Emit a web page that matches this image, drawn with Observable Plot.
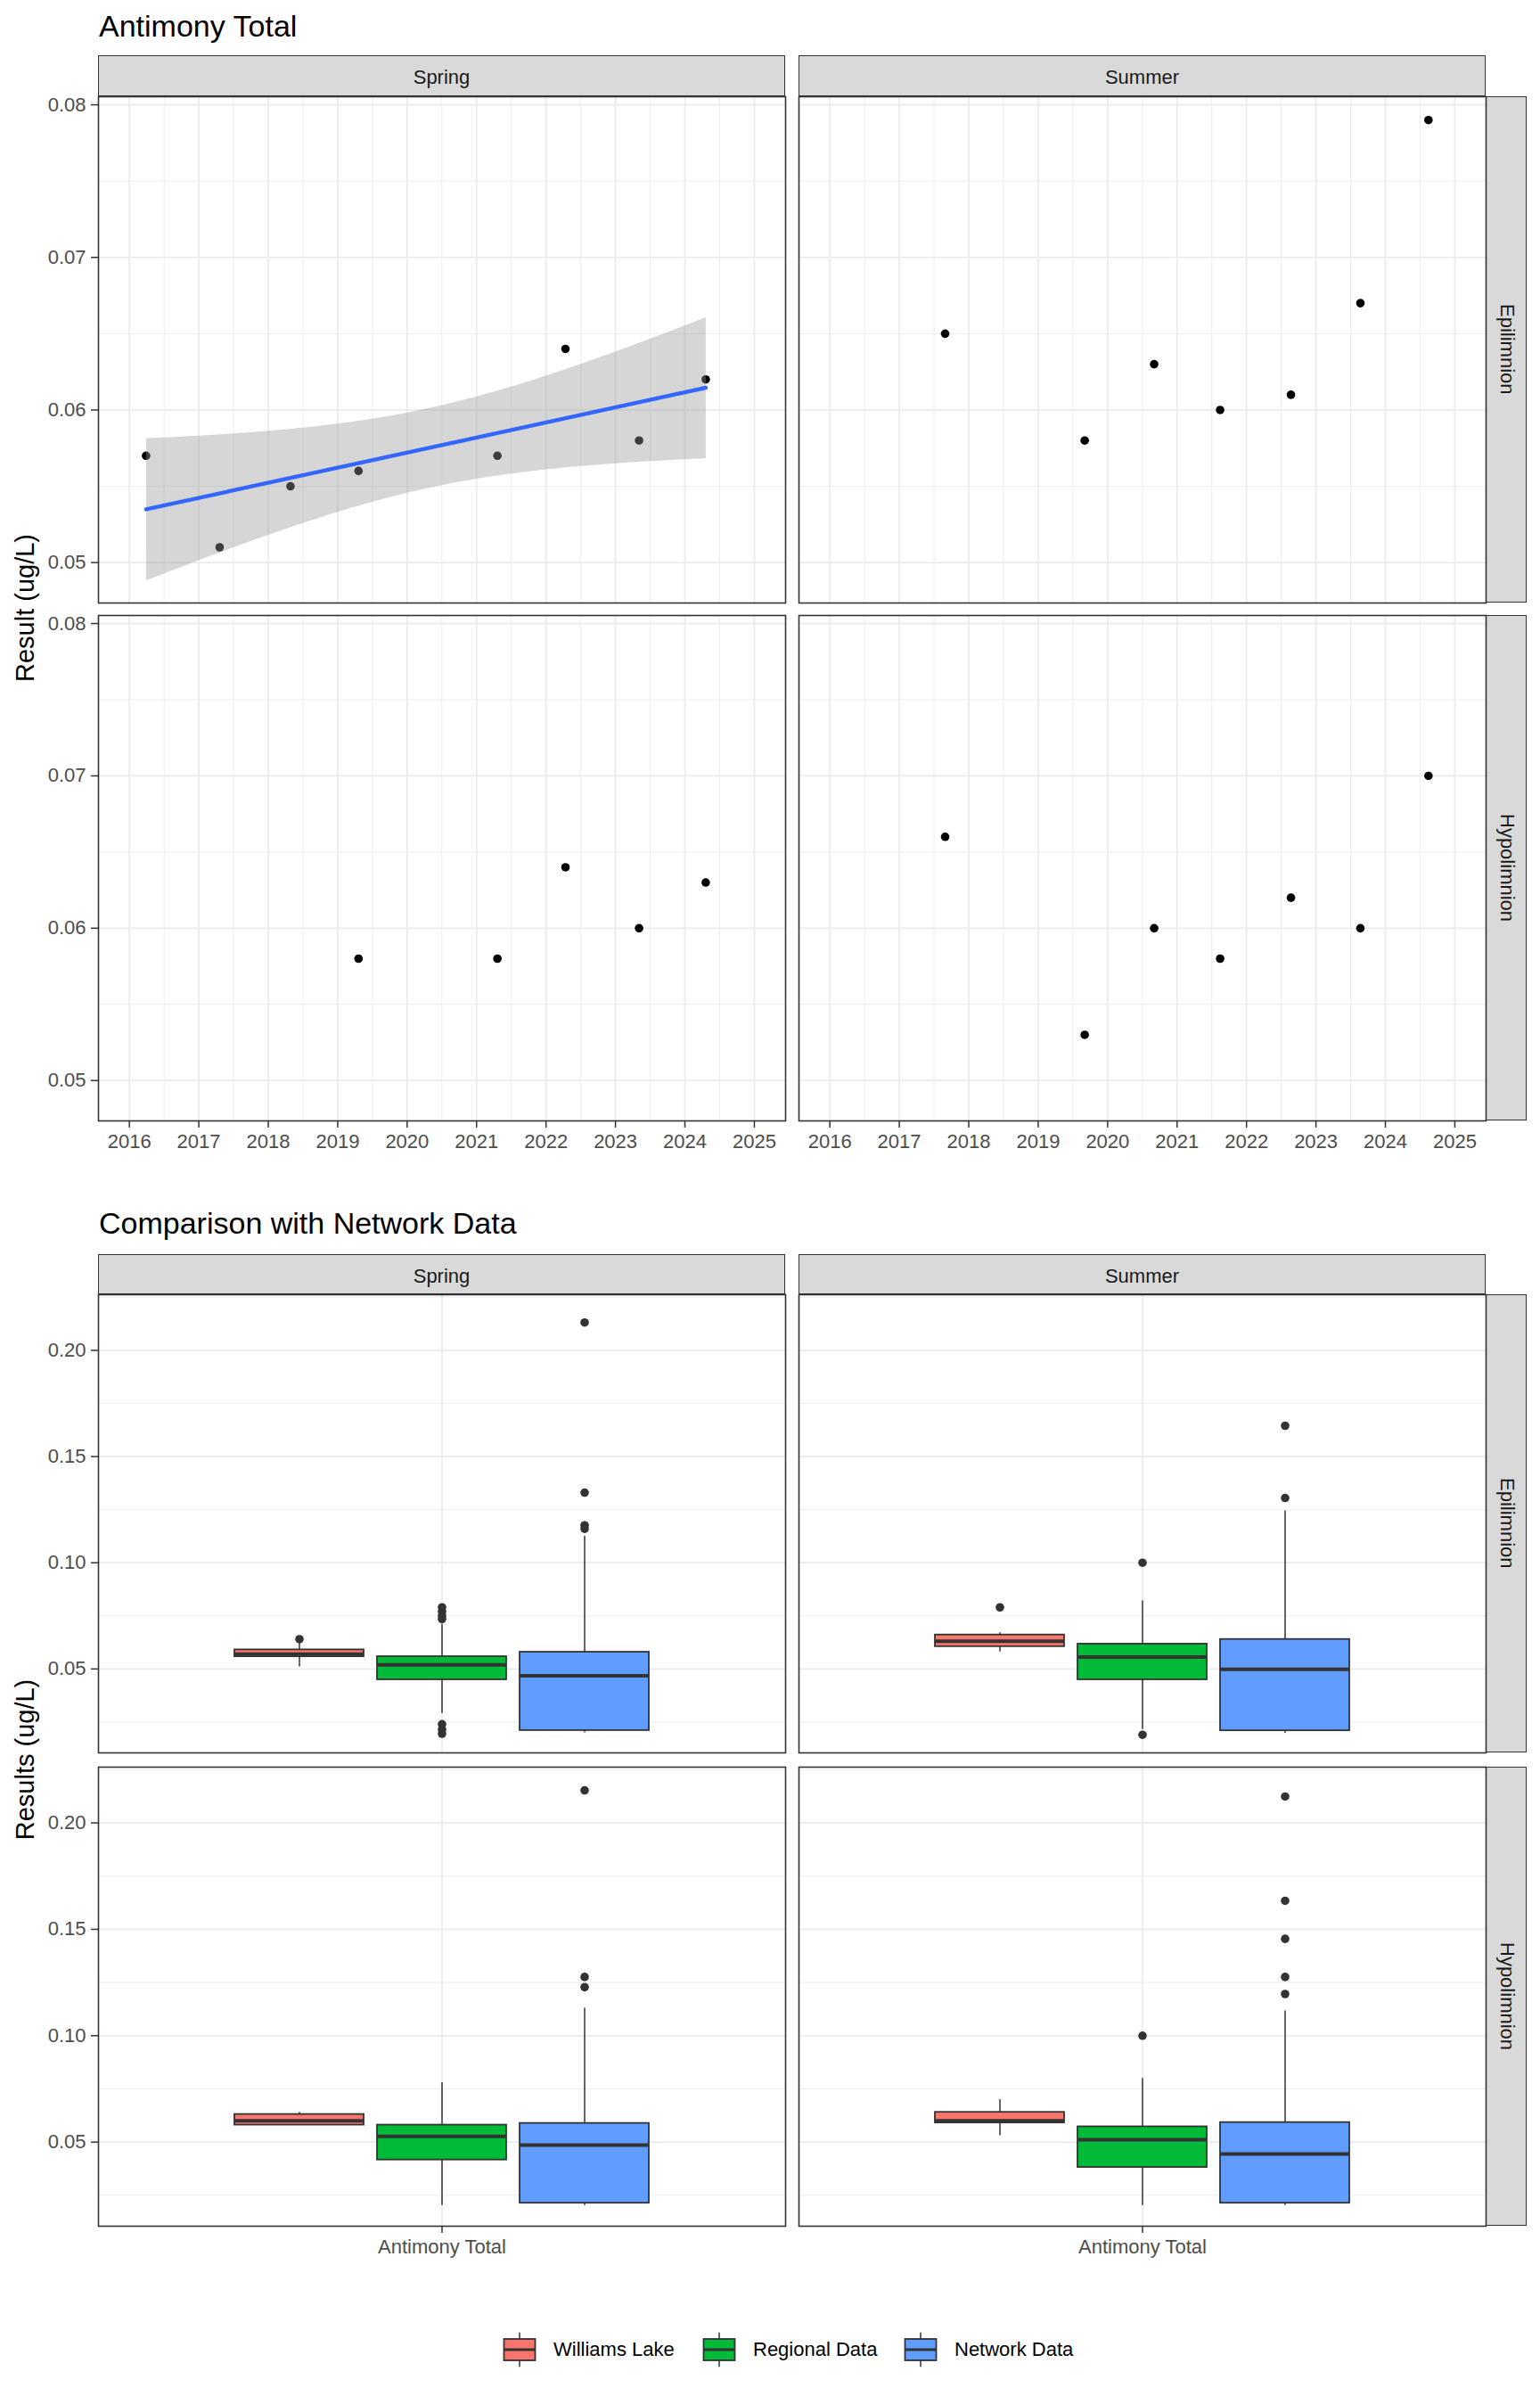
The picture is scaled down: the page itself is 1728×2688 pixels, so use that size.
<!DOCTYPE html>
<html>
<head>
<meta charset="utf-8">
<script src="https://cdn.jsdelivr.net/npm/d3@7"></script>
<script src="https://cdn.jsdelivr.net/npm/@observablehq/plot@0.6"></script>
<style>
  body { margin: 0; background: #fff; font-family: "Liberation Sans", Arial, sans-serif; }
  #root { position: relative; width: 1728px; height: 2688px; overflow: hidden; background: #fff; }
  .title { position: absolute; font-size: 34px; color: #000; white-space: nowrap; line-height: 1; }
  .strip { position: absolute; box-sizing: border-box; background: #D9D9D9; border: 1.3px solid #333;
           color: #1A1A1A; font-size: 22px; display: flex; align-items: center; justify-content: center; }
  .strip.h span { position: relative; top: 2px; }
  .strip.v span { writing-mode: vertical-rl; position: relative; left: 1px; }
  .ytitle { position: absolute; font-size: 29px; color: #000; white-space: nowrap; transform: translate(-50%, -50%) rotate(-90deg); line-height: 1; }
  .legend { position: absolute; display: flex; align-items: center; font-size: 22px; color: #000; }
  .legend .item { display: flex; align-items: center; }
  .legend svg { display: block; }
  svg.panel { position: absolute; overflow: visible; }
</style>
</head>
<body>
<div id="root"></div>
<script>
// ---------------- DATA ----------------
const seasons = ["Spring", "Summer"];
const layers = ["Epilimnion", "Hypolimnion"];

// Trend chart (decimal year, ug/L)
const springEpiYear = [2016.24, 2017.30, 2018.32, 2019.30, 2021.30, 2022.28, 2023.34, 2024.30];
const springEpiResult = [0.057, 0.051, 0.055, 0.056, 0.057, 0.064, 0.058, 0.062];
const springHypoYear = [2019.30, 2021.30, 2022.28, 2023.34, 2024.30];
const springHypoResult = [0.058, 0.058, 0.064, 0.060, 0.063];
const summerEpiYear = [2017.66, 2019.67, 2020.67, 2021.62, 2022.64, 2023.64, 2024.62];
const summerEpiResult = [0.065, 0.058, 0.063, 0.060, 0.061, 0.067, 0.079];
const summerHypoYear = [2017.66, 2019.67, 2020.67, 2021.62, 2022.64, 2023.64, 2024.62];
const summerHypoResult = [0.066, 0.053, 0.060, 0.058, 0.062, 0.060, 0.070];

const yearTicks = [2016, 2017, 2018, 2019, 2020, 2021, 2022, 2023, 2024, 2025];
const yearMinor = [2016.5, 2017.5, 2018.5, 2019.5, 2020.5, 2021.5, 2022.5, 2023.5, 2024.5];
const trendTicks = [0.05, 0.06, 0.07, 0.08];
const trendMinor = [0.055, 0.065, 0.075];

// Comparison chart
const groups = ["Williams Lake", "Regional Data", "Network Data"];
const groupColors = ["#F8766D", "#00BA38", "#619CFF"];
const xCategory = ["Antimony Total"];
// panel order: Spring-Epi, Summer-Epi, Spring-Hypo, Summer-Hypo
const regionalLo = [0.029, 0.0215, 0.0202, 0.0202];
const regionalQ1 = [0.0449, 0.0449, 0.0416, 0.0381];
const regionalMedian = [0.0519, 0.0556, 0.0527, 0.0511];
const regionalQ3 = [0.0558, 0.0617, 0.0580, 0.0572];
const regionalHi = [0.071, 0.082, 0.0779, 0.0799];
const regionalOutliers = [[0.0735, 0.075, 0.077, 0.079, 0.024, 0.0215, 0.0195], [0.100, 0.019], [], [0.100]];
const networkLo = [0.0199, 0.0197, 0.0202, 0.0202];
const networkQ1 = [0.0210, 0.0209, 0.0213, 0.0213];
const networkMedian = [0.0468, 0.0498, 0.0486, 0.0444];
const networkQ3 = [0.0579, 0.0639, 0.0588, 0.0592];
const networkHi = [0.1125, 0.1244, 0.1129, 0.1116];
const networkOutliers = [[0.1160, 0.1176, 0.133, 0.2131], [0.1305, 0.1645], [0.1228, 0.1276, 0.2153], [0.1196, 0.1276, 0.1455, 0.1634, 0.2124]];
const compTicks = [0.05, 0.10, 0.15, 0.20];
const compMinor = [0.025, 0.075, 0.125, 0.175, 0.225];

// ---------------- LAYOUT ----------------
const root = document.getElementById("root");
const colLeft = [110, 896];
const colWidth = 771;
const stripW = 46;
const topRows = [[108, 676], [690, 1257]];
const botRows = [[1452, 1966], [1982, 2497]];
const GRID = "#EBEBEB", DARK = "#333333";

function addDiv(cls, text, css) {
  const d = document.createElement("div");
  d.className = cls;
  if (cls.includes("strip")) { const s = document.createElement("span"); s.textContent = text; d.appendChild(s); }
  else d.textContent = text;
  Object.assign(d.style, css);
  root.appendChild(d);
  return d;
}

function panel({left, top, width, height, axisLeft, axisBottom, x, y, color, marks}) {
  const mL = axisLeft ? 110 : 2, mB = axisBottom ? 50 : 2, mT = 2, mR = 2;
  const svg = Plot.plot({
    width: width + mL + mR, height: height + mT + mB,
    marginLeft: mL, marginRight: mR, marginTop: mT, marginBottom: mB,
    x: {...x, axis: null}, y: {...y, axis: null}, color,
    style: {fontFamily: "'Liberation Sans', Arial, sans-serif", fontSize: "22px", color: "#4D4D4D", background: "transparent", overflow: "visible"},
    marks
  });
  svg.classList.add("panel");
  svg.style.left = (left - mL) + "px";
  svg.style.top = (top - mT) + "px";
  root.appendChild(svg);
}

// ---------------- TREND CHART ----------------
addDiv("title", "Antimony Total", {left: "111px", top: "12px"});
seasons.forEach((s, c) => addDiv("strip h", s, {left: colLeft[c] + "px", top: "62px", width: colWidth + "px", height: "46px"}));
layers.forEach((l, r) => addDiv("strip v", l, {left: (colLeft[1] + colWidth) + "px", top: topRows[r][0] + "px", width: stripW + "px", height: (topRows[r][1] - topRows[r][0]) + "px"}));
addDiv("ytitle", "Result (ug/L)", {left: "28px", top: "682px"});

const trendSets = {
  "Spring-Epilimnion": [springEpiYear, springEpiResult],
  "Spring-Hypolimnion": [springHypoYear, springHypoResult],
  "Summer-Epilimnion": [summerEpiYear, summerEpiResult],
  "Summer-Hypolimnion": [summerHypoYear, summerHypoResult]
};

layers.forEach((l, r) => seasons.forEach((s, c) => {
  const [yrs, vals] = trendSets[`${s}-${l}`];
  const data = yrs.map((yr, i) => ({year: yr, result: vals[i]}));
  const marks = [
    Plot.gridX(yearMinor, {stroke: GRID, strokeOpacity: 1, strokeWidth: 0.9}),
    Plot.gridY(trendMinor, {stroke: GRID, strokeOpacity: 1, strokeWidth: 0.9}),
    Plot.gridX(yearTicks, {stroke: GRID, strokeOpacity: 1, strokeWidth: 1.7}),
    Plot.gridY(trendTicks, {stroke: GRID, strokeOpacity: 1, strokeWidth: 1.7}),
    Plot.dot(data, {x: "year", y: "result", r: 4.8, fill: "#000"})
  ];
  if (s === "Spring" && l === "Epilimnion") {
    marks.push(Plot.linearRegressionY(data, {x: "year", y: "result", stroke: "#3366FF", strokeWidth: 4.4, fill: "#999999", fillOpacity: 0.4, ci: 0.95}));
  }
  marks.push(Plot.frame({stroke: DARK, strokeWidth: 1.6}));
  if (c === 0) marks.push(Plot.axisY(trendTicks, {tickFormat: d3.format(".2f"), tickSize: 8, tickPadding: 6, stroke: DARK, strokeWidth: 1.5, label: null}));
  if (r === 1) marks.push(Plot.axisX(yearTicks, {tickFormat: d3.format("d"), tickSize: 8, tickPadding: 7, stroke: DARK, strokeWidth: 1.5, label: null}));
  panel({
    left: colLeft[c], top: topRows[r][0], width: colWidth, height: topRows[r][1] - topRows[r][0],
    axisLeft: c === 0, axisBottom: r === 1,
    x: {domain: [2015.555, 2025.45]}, y: {domain: [0.04735, 0.08053]},
    marks
  });
}));

// ---------------- COMPARISON CHART ----------------
addDiv("title", "Comparison with Network Data", {left: "111px", top: "1355px"});
seasons.forEach((s, c) => addDiv("strip h", s, {left: colLeft[c] + "px", top: "1407px", width: colWidth + "px", height: "45px"}));
layers.forEach((l, r) => addDiv("strip v", l, {left: (colLeft[1] + colWidth) + "px", top: botRows[r][0] + "px", width: stripW + "px", height: (botRows[r][1] - botRows[r][0]) + "px"}));
addDiv("ytitle", "Results (ug/L)", {left: "28px", top: "1974px"});

function boxStats(values) {
  const v = values.slice().sort(d3.ascending);
  const q1 = d3.quantile(v, 0.25), median = d3.quantile(v, 0.5), q3 = d3.quantile(v, 0.75);
  const iqr = q3 - q1, loF = q1 - 1.5 * iqr - 1e-12, hiF = q3 + 1.5 * iqr + 1e-12;
  return {q1, median, q3, lo: d3.min(v.filter(d => d >= loF)), hi: d3.max(v.filter(d => d <= hiF)),
          outliers: v.filter(d => d < loF || d > hiF)};
}

const panelKeys = ["Spring-Epilimnion", "Summer-Epilimnion", "Spring-Hypolimnion", "Summer-Hypolimnion"];

layers.forEach((l, r) => seasons.forEach((s, c) => {
  const key = `${s}-${l}`;
  const p = panelKeys.indexOf(key);
  const wl = boxStats(trendSets[key][1]);
  const boxes = [
    {group: groups[0], lo: wl.lo, q1: wl.q1, median: wl.median, q3: wl.q3, hi: wl.hi},
    {group: groups[1], lo: regionalLo[p], q1: regionalQ1[p], median: regionalMedian[p], q3: regionalQ3[p], hi: regionalHi[p]},
    {group: groups[2], lo: networkLo[p], q1: networkQ1[p], median: networkMedian[p], q3: networkQ3[p], hi: networkHi[p]}
  ];
  const outliers = [
    ...wl.outliers.map(v => ({group: groups[0], value: v})),
    ...regionalOutliers[p].map(v => ({group: groups[1], value: v})),
    ...networkOutliers[p].map(v => ({group: groups[2], value: v}))
  ];
  const marks = [
    Plot.gridY(compMinor, {stroke: GRID, strokeOpacity: 1, strokeWidth: 0.9}),
    Plot.gridY(compTicks, {stroke: GRID, strokeOpacity: 1, strokeWidth: 1.7}),
    Plot.gridX([groups[1]], {stroke: GRID, strokeOpacity: 1, strokeWidth: 1.7}),
    Plot.ruleX(boxes, {x: "group", y1: "lo", y2: "hi", stroke: DARK, strokeWidth: 1.5}),
    Plot.barY(boxes, {x: "group", y1: "q1", y2: "q3", fill: "group", stroke: DARK, strokeWidth: 1.8}),
    Plot.tickY(boxes, {x: "group", y: "median", stroke: DARK, strokeWidth: 4}),
    Plot.dot(outliers, {x: "group", y: "value", r: 4.8, fill: DARK}),
    Plot.frame({stroke: DARK, strokeWidth: 1.6})
  ];
  if (c === 0) marks.push(Plot.axisY(compTicks, {tickFormat: d3.format(".2f"), tickSize: 8, tickPadding: 6, stroke: DARK, strokeWidth: 1.5, label: null}));
  if (r === 1) marks.push(Plot.axisX([groups[1]], {tickFormat: () => xCategory[0], tickSize: 8, tickPadding: 7, stroke: DARK, strokeWidth: 1.5, label: null}));
  panel({
    left: colLeft[c], top: botRows[r][0], width: colWidth, height: botRows[r][1] - botRows[r][0],
    axisLeft: c === 0, axisBottom: r === 1,
    x: {type: "band", domain: groups, paddingInner: 0.0935, paddingOuter: 0.9486},
    y: {domain: [0.01048, 0.2262]},
    color: {domain: groups, range: groupColors},
    marks
  });
}));

// ---------------- LEGEND ----------------
const legend = document.createElement("div");
legend.className = "legend";
Object.assign(legend.style, {left: "559px", top: "2612px", height: "48px"});
const legendGaps = [14, 14, 14];
const itemLefts = [559, 783, 1009];
groups.forEach((g, i) => {
  const item = document.createElement("div");
  item.className = "item";
  Object.assign(item.style, {position: "absolute", left: (itemLefts[i] - 559) + "px", top: "0px", height: "48px"});
  const ns = "http://www.w3.org/2000/svg";
  const svg = document.createElementNS(ns, "svg");
  svg.setAttribute("width", 48); svg.setAttribute("height", 48);
  svg.innerHTML = `<line x1="24" x2="24" y1="4.8" y2="43.2" stroke="${DARK}" stroke-width="1.5"/>
    <rect x="6.5" y="12" width="35" height="24" fill="${groupColors[i]}" stroke="${DARK}" stroke-width="1.8"/>
    <line x1="6.5" x2="41.5" y1="24" y2="24" stroke="${DARK}" stroke-width="3"/>`;
  item.appendChild(svg);
  const t = document.createElement("span");
  t.textContent = g;
  t.style.marginLeft = legendGaps[i] + "px";
  t.style.whiteSpace = "nowrap";
  item.appendChild(t);
  legend.appendChild(item);
});
root.appendChild(legend);
</script>
</body>
</html>
